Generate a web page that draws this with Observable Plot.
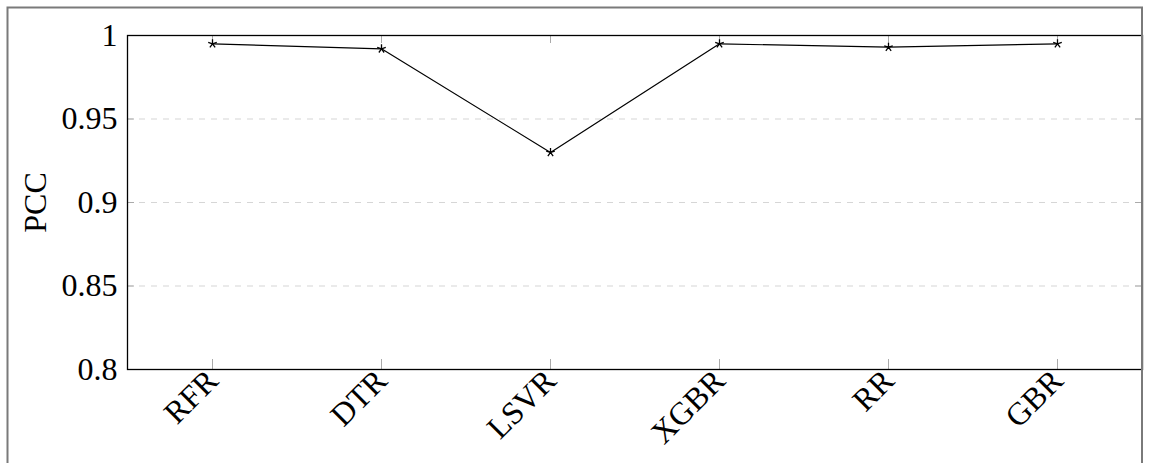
<!DOCTYPE html>
<html><head><meta charset="utf-8">
<script src="https://cdn.jsdelivr.net/npm/d3@7"></script>
<script src="https://cdn.jsdelivr.net/npm/@observablehq/plot@0.6"></script>
<style>body{margin:0;background:#fff} svg text{font-family:"Liberation Serif","DejaVu Serif",serif !important;font-variant-numeric:normal !important;}</style>
</head><body><div id="chart"></div>
<script>
const models = ["RFR","DTR","LSVR","XGBR","RR","GBR"];
const pcc = [0.995, 0.992, 0.930, 0.995, 0.993, 0.995];
const yTicks = [0.8, 0.85, 0.9, 0.95, 1];
const gridTicks = [0.85, 0.9, 0.95];
const yLabel = "PCC";
const data = models.map((m,i)=>({model:m, pcc:pcc[i]}));

const star = {draw(ctx, size){ const r = Math.sqrt(size/Math.PI); for(let k=0;k<5;k++){const a = -Math.PI/2 + k*2*Math.PI/5; ctx.moveTo(0,0); ctx.lineTo(r*Math.cos(a), r*Math.sin(a));}}};

const W=1153,H=463, mL=127, mT=35, mR=11, mB=94;
const innerW = W-mL-mR, innerH = H-mT-mB;
const FS = 32;
const chart = Plot.plot({
  width:W, height:H, marginLeft:mL, marginTop:mT, marginRight:mR, marginBottom:mB,
  style:{fontFamily:"'Liberation Serif', serif", fontSize:FS+"px", color:"#000", background:"#fff", overflow:"visible"},
  x:{type:"point", domain:models, padding:0.5, label:null},
  y:{domain:[0.8,1], label:null},
  marks:[
    Plot.ruleY(gridTicks, {stroke:"#d6d6d6", strokeDasharray:"6,6", strokeWidth:1.2}),
    Plot.tickY(yTicks, {stroke:"#aaa", insetRight: innerW-7}),
    Plot.tickY(yTicks, {stroke:"#aaa", insetLeft: innerW-7}),
    Plot.tickX(models, {stroke:"#aaa", insetTop: innerH-10}),
    Plot.tickX(models, {stroke:"#aaa", insetBottom: innerH-8}),
    Plot.axisY(yTicks, {tickSize:0, tickPadding:10, tickFormat: d=>String(d), fontSize:FS, fontVariant:"normal"}),
    Plot.axisX({tickSize:0, tickPadding:6, tickRotate:-45, fontSize:FS}),
    Plot.frame({stroke:"#000", strokeWidth:1.3}),
    Plot.line(data, {x:"model", y:"pcc", stroke:"#000", strokeWidth:1.2}),
    Plot.dot(data, {x:"model", y:"pcc", symbol:star, r:4.5, stroke:"#000", strokeWidth:1.3, fill:"none"}),
    Plot.text([yLabel], {text:d=>d, frameAnchor:"left", textAnchor:"middle", dx:-92, rotate:-90, fontSize:FS})
  ]
});
d3.select(chart).append("rect").attr("x",7.5).attr("y",7.5).attr("width",1134.5).attr("height",600)
  .attr("fill","none").attr("stroke","#7a7a7a").attr("stroke-width",2);
document.getElementById("chart").appendChild(chart);
</script></body></html>
